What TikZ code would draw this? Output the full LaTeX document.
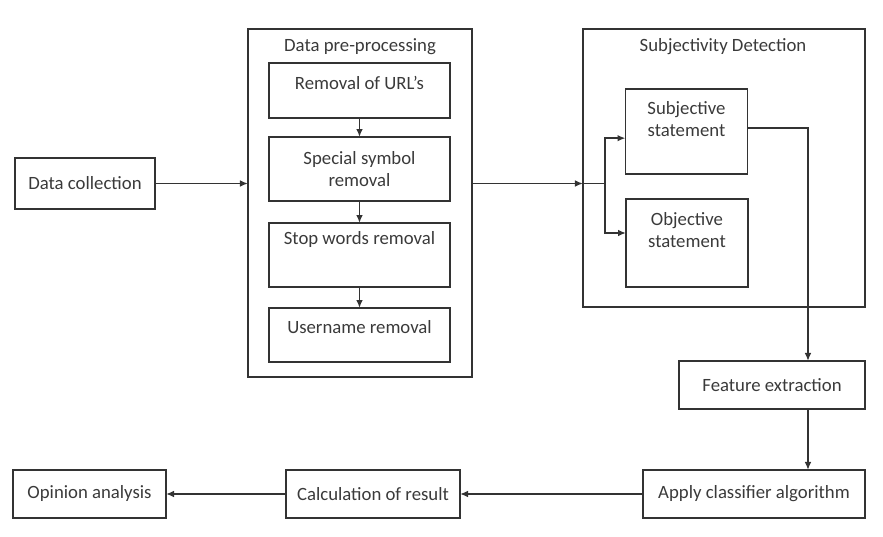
\documentclass[tikz,border=0pt]{standalone}
\usepackage{fontspec}
\setmainfont{Carlito}
\usetikzlibrary{positioning, arrows.meta}
\definecolor{linegray}{HTML}{333333}
\definecolor{textgray}{HTML}{3A3A3A}
\tikzset{
    >={Latex[length=0.24cm, width=0.2cm]}, % filled arrow heads
    every node/.style={font=\fontsize{16pt}{19pt}\selectfont, text=textgray},
    box/.style={draw=linegray, line width=1.5pt, rectangle, inner sep=0pt, outer sep=0pt, align=center}, % every plain box
    group/.style={box, line width=1.5pt}, % the two large frames
    link/.style={draw=linegray, line width=1.5pt}, % the connectors
}

\begin{document}
\begin{tikzpicture}[x=0.03cm, y=-0.03cm]
\useasboundingbox (0,0) rectangle (883,537);
% frames
\node[group, minimum width=6.72cm, minimum height=10.44cm] (pre) at (360,203) {};
\node (pretitle) at (360,47) {Data pre-processing};
\node[group, minimum width=8.46cm, minimum height=8.34cm] (subj) at (724,168) {};
\node (subjtitle) at (723,47) {Subjectivity Detection};
% boxes
\node[box, minimum width=4.2cm, minimum height=1.53cm] (collect) at (85,183.5) {Data collection};
\node[box, minimum width=5.43cm, minimum height=1.65cm, text depth=0.45cm] (url) at (359.5,90.5) {Removal of URL’s};
\node[box, minimum width=5.43cm, minimum height=1.92cm, below=0.57cm of url] (sym) {Special symbol\\removal};
\node[box, minimum width=5.43cm, minimum height=1.92cm, text depth=1.0cm, below=0.66cm of sym] (stop) {Stop words removal};
\node[box, minimum width=5.43cm, minimum height=1.62cm, text depth=0.5cm, below=0.63cm of stop] (user) {Username removal};
\node[box, minimum width=3.66cm, minimum height=2.55cm, text depth=0.75cm] (subjective) at (686.5,131.5) {Subjective\\statement};
\node[box, minimum width=3.66cm, minimum height=2.64cm, text depth=0.8cm] (objective) at (687,243) {Objective\\statement};
\node[box, minimum width=5.58cm, minimum height=1.44cm] (feat) at (772,385) {Feature extraction};
\node[box, minimum width=6.66cm, minimum height=1.44cm] (apply) at (754,494) {Apply classifier algorithm};
\node[box, minimum width=5.22cm, minimum height=1.44cm] (calc) at (373,494) {Calculation of result};
\node[box, minimum width=4.59cm, minimum height=1.44cm] (opinion) at (89.5,494) {Opinion analysis};
% connectors
\draw[link, ->] (collect.east) -- (collect.east -| pre.west);
\draw[link, ->] (url) -- (sym);
\draw[link, ->] (sym) -- (stop);
\draw[link, ->] (stop) -- (user);
\draw[link, ->] (collect.east -| pre.east) -- (collect.east -| subj.west);
\coordinate (split) at ([xshift=0.66cm]collect.east -| subj.west);
\draw[link] (collect.east -| subj.west) -- (split);
\draw[link, ->] (split) |- ([yshift=-0.2cm]subjective.west);
\draw[link, ->] (split) |- ([yshift=0.3cm]objective.west);
\coordinate (turn) at ([xshift=1.08cm]feat.north);
\draw[link, ->] ([yshift=0.1cm]subjective.east) -| (turn);
\draw[link, ->] ([xshift=1.08cm]feat.south) -- ([xshift=1.08cm]feat.south |- apply.north);
\draw[link, ->] (apply) -- (calc);
\draw[link, ->] (calc) -- (opinion);
\end{tikzpicture}
\end{document}
